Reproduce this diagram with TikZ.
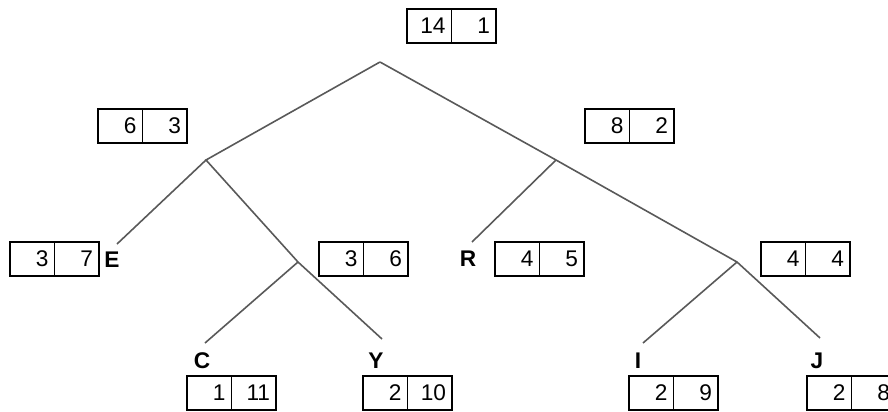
\documentclass[tikz,border=0pt]{standalone}
\usepackage{fontspec}
\setmainfont{Liberation Sans}
\usetikzlibrary{positioning}

\begin{document}
\begin{tikzpicture}[x=0.75pt,y=-0.75pt,
    cell/.style={draw, line width=1.1pt, outer sep=0pt, inner xsep=4.5pt, inner ysep=0pt,
        minimum height=25.5pt, text width=24.4pt, align=right,
        font=\fontsize{17}{17}\selectfont},
    leaf/.style={inner sep=0pt, font=\bfseries\fontsize{17}{17}\selectfont},
    branch/.style={draw=black!65, line width=1.2pt}]
    \useasboundingbox (0,0) rectangle (888,411);
    \clip (0,0) rectangle (888,411);

    % tree vertices
    \coordinate (root) at (380,62);
    \coordinate (vl) at (206,160);
    \coordinate (vr) at (556,160);
    \coordinate (vly) at (298,262);
    \coordinate (vij) at (737,262);

    % free ends at the letters
    \coordinate (endE) at (117,244);
    \coordinate (endR) at (472,242);
    \coordinate (endC) at (205,343);
    \coordinate (endY) at (382,339);
    \coordinate (endI) at (643,343);
    \coordinate (endJ) at (820,338);

    % branches
    \draw[branch] (root) -- (vl) -- (vly) -- (endY);
    \draw[branch] (root) -- (vr) -- (vij) -- (endJ);
    \draw[branch] (vl) -- (endE);
    \draw[branch] (vr) -- (endR);
    \draw[branch] (vly) -- (endC);
    \draw[branch] (vij) -- (endI);

    % count boxes
    \node[cell, anchor=north west] (rootA) at (407,9) {14};
    \node[cell, right=0pt of rootA] (rootB) {1};
    \node[cell, anchor=north west] (vlA) at (98,109) {6};
    \node[cell, right=0pt of vlA] (vlB) {3};
    \node[cell, anchor=north west] (vrA) at (585,109) {8};
    \node[cell, right=0pt of vrA] (vrB) {2};
    \node[cell, anchor=north west] (eA) at (10,242) {3};
    \node[cell, right=0pt of eA] (eB) {7};
    \node[cell, anchor=north west] (vlyA) at (319,242) {3};
    \node[cell, right=0pt of vlyA] (vlyB) {6};
    \node[cell, anchor=north west] (rA) at (495,242) {4};
    \node[cell, right=0pt of rA] (rB) {5};
    \node[cell, anchor=north west] (vijA) at (761,242) {4};
    \node[cell, right=0pt of vijA] (vijB) {4};
    \node[cell, anchor=north west] (cA) at (187,376) {1};
    \node[cell, right=0pt of cA] (cB) {11};
    \node[cell, anchor=north west] (yA) at (363,376) {2};
    \node[cell, right=0pt of yA] (yB) {10};
    \node[cell, anchor=north west] (iA) at (629,376) {2};
    \node[cell, right=0pt of iA] (iB) {9};
    \node[cell, anchor=north west] (jA) at (807,376) {2};
    \node[cell, right=0pt of jA] (jB) {8};

    % letters
    \node[leaf] (E) at (112,260) {E};
    \node[leaf] (R) at (468,259) {R};
    \node[leaf] (C) at (202,361) {C};
    \node[leaf] (Y) at (376,361) {Y};
    \node[leaf] (I) at (638,361) {I};
    \node[leaf] (J) at (817,361) {J};
\end{tikzpicture}
\end{document}
